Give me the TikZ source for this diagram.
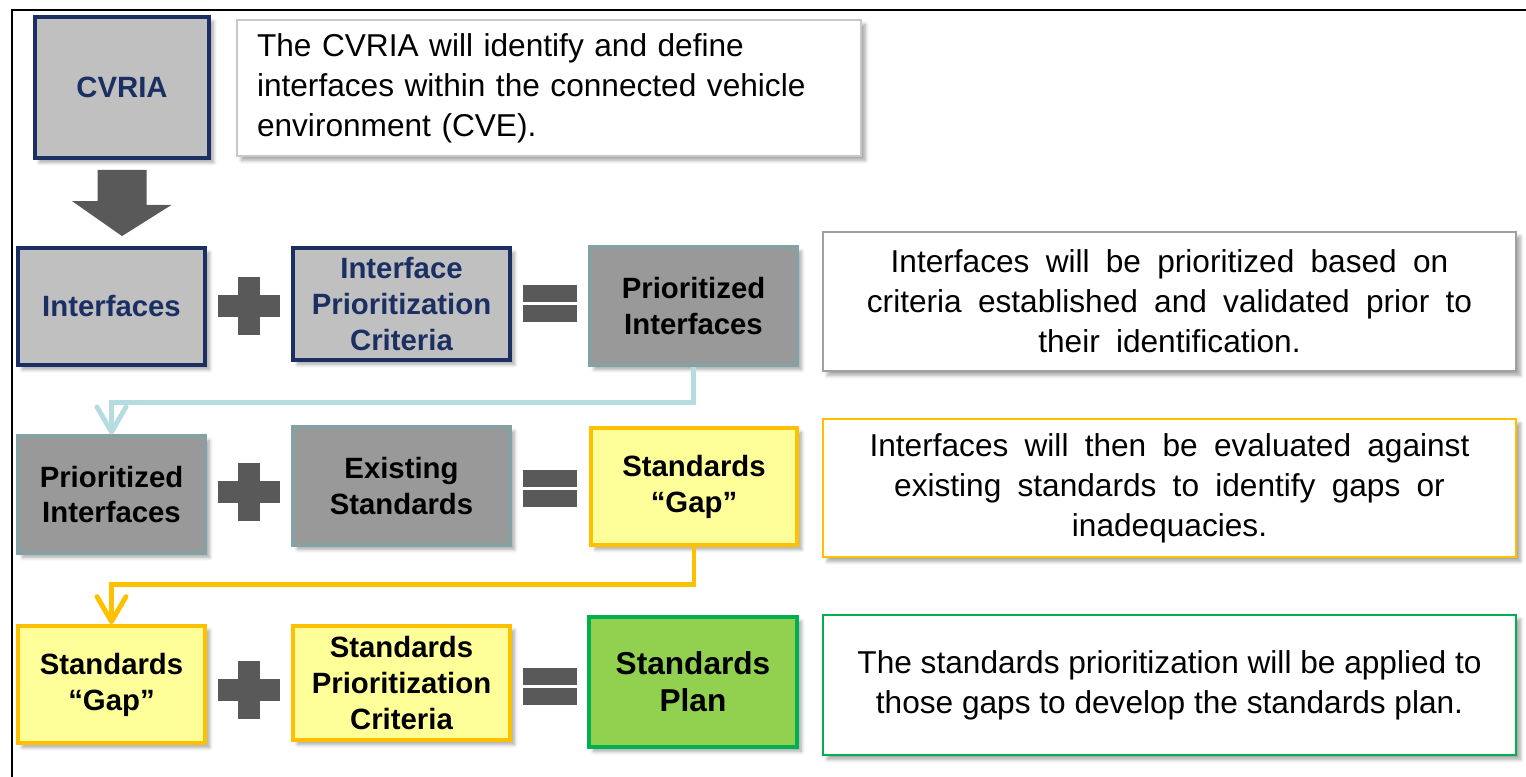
\documentclass[tikz,border=0pt]{standalone}
\usepackage{fontspec}
\setmainfont{Liberation Sans}
\newfontfamily\widefont[WordSpace=1.85]{Liberation Sans}
\usetikzlibrary{shadows.blur,arrows.meta,calc}
\definecolor{navy}{HTML}{1B2F63}
\definecolor{lgray}{HTML}{C0C0C0}
\definecolor{mgray}{HTML}{999999}
\definecolor{tealgray}{HTML}{86A1A4}
\definecolor{lyellow}{HTML}{FFFF99}
\definecolor{gold}{HTML}{FFC000}
\definecolor{lgreen}{HTML}{92D050}
\definecolor{dgreen}{HTML}{00B050}
\definecolor{dgray}{HTML}{595959}
\definecolor{lblue}{HTML}{B5DCE1}
\definecolor{tbgray}{HTML}{C8C8C8}
\definecolor{tbgray2}{HTML}{A0A0A0}
\newcommand\boxfont{\fontsize{16.7}{20.4}\selectfont\bfseries}
\newcommand\planfont{\fontsize{18}{21.2}\selectfont\bfseries}
\newcommand\tbfont{\fontsize{18}{22.7}\selectfont}
\newcommand\tbwfont{\widefont\fontsize{18}{22.7}\selectfont}
\def\upx{0.02cm}
\tikzset{
  sz/.style 2 args={minimum width=#1*\upx, minimum height=#2*\upx},
  shad/.style={blur shadow={shadow xshift=2.5pt, shadow yshift=-2.5pt, shadow blur steps=6, shadow opacity=35, shadow blur radius=2pt}},
  box/.style={draw, rectangle, align=center, inner sep=0pt, font=\boxfont, shad},
  navybox/.style={box, fill=lgray, draw=navy, line width=2.2pt, text=navy},
  graybox/.style={box, fill=mgray, draw=tealgray, line width=1.8pt, text=black},
  yellowbox/.style={box, fill=lyellow, draw=gold, line width=2.2pt, text=black},
  greenbox/.style={box, fill=lgreen, draw=dgreen, line width=2.8pt, font=\planfont, text=black},
  textbox/.style={draw, rectangle, fill=white, line width=1.4pt, font=\tbfont, align=center, inner sep=0pt, shad},
  conn/.style={line width=2.8pt, -{Straight Barb[length=0.5cm, width=0.58cm, round]}},
  fatarrow/.style={fill=dgray, draw=none},
  plussign/.pic={\fill[dgray] (-31,-11) rectangle (31,11); \fill[dgray] (-11,-29) rectangle (11,29);},
  eqsign/.pic={\fill[dgray] (-27,-18.5) rectangle (27,-1.5); \fill[dgray] (-27,1.5) rectangle (27,18.5);}
}
\begin{document}
\begin{tikzpicture}[x=0.02cm, y=-0.02cm]
\useasboundingbox (0,0) rectangle (1526,777);
% frame
\draw[line width=1.7pt, line cap=rect] (1526,10) -- (12,10) -- (12,777);
% row 0
\node[navybox, sz={174}{141}] (cvria) at (122,87.5) {CVRIA};
\node[textbox, draw=tbgray, sz={624}{136}, text width=584*\upx, align=left] (tb1) at (549,88)
  {The CVRIA will identify and define\\interfaces within the connected vehicle\\environment (CVE).};
% row 1
\node[navybox, sz={187}{117}] (ifc) at (111.5,306.5) {Interfaces};
\node[navybox, sz={217}{112}] (ipc) at (401.5,304) {Interface\\Prioritization\\Criteria};
\node[graybox, sz={207}{118}] (pint) at (693.5,306) {Prioritized\\Interfaces};
\node[textbox, draw=tbgray2, sz={693}{139}, font=\tbwfont] (tb2) at (1169.5,301.5)
  {Interfaces will be prioritized based on\\criteria established and validated prior to\\their identification.};
\pic at (249,306) {plussign};
\pic at (550,303) {eqsign};
% row 2
\node[graybox, sz={187}{117}] (pint2) at (111.5,494.5) {Prioritized\\Interfaces};
\node[graybox, sz={217}{118}] (exs) at (401.5,486) {Existing\\Standards};
\node[yellowbox, sz={206}{117}] (gap1) at (694,486.5) {Standards\\“Gap”};
\node[textbox, draw=gold, sz={693}{138}, font=\tbwfont] (tb3) at (1169.5,488)
  {Interfaces will then be evaluated against\\existing standards to identify gaps or\\inadequacies.};
\pic at (249,492) {plussign};
\pic at (550,488.5) {eqsign};
% row 3
\node[yellowbox, sz={187}{117}] (gap2) at (111.5,684.5) {Standards\\“Gap”};
\node[yellowbox, sz={217}{114}] (spc) at (401.5,683) {Standards\\Prioritization\\Criteria};
\node[greenbox, sz={208}{130}] (plan) at (693,682) {Standards\\Plan};
\node[textbox, draw=dgreen, sz={693}{140}] (tb4) at (1169.5,685)
  {The standards prioritization will be applied to\\those gaps to develop the standards plan.};
\pic at (249,690) {plussign};
\pic at (550,686) {eqsign};
% connectors
\coordinate (tip) at ([yshift=0.2cm]cvria.south |- ifc.north);
\fill[fatarrow] ($(cvria.south)+(-24.5,10)$) -- ++(49,0) -- ++(0,35) -- ++(25,0)
  -- (tip) -- ++(-50,-35) -- ++(25.5,0) -- cycle;
\draw[conn, lblue] (pint.south) -- ++(0,36) -| (pint2.north);
\draw[conn, gold] (gap1.south) -- ++(0,38) -| (gap2.north);
\end{tikzpicture}
\end{document}
